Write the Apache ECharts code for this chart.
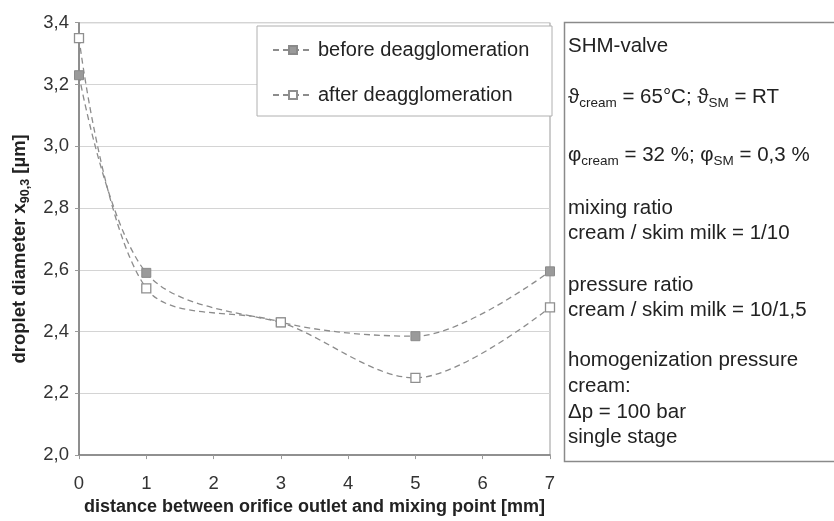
<!DOCTYPE html>
<html>
<head>
<meta charset="utf-8">
<script src="https://cdn.jsdelivr.net/npm/echarts@6/dist/echarts.min.js"></script>
<style>
html,body{margin:0;padding:0;background:#fff;}
#chart{width:834px;height:521px;}
</style>
</head>
<body>
<div id="chart"></div>
<script>
// ---- data ----
var distances = [0, 1, 3, 5, 7];
var beforeDeagg = [3.23, 2.59, 2.43, 2.385, 2.595];
var afterDeagg = [3.35, 2.54, 2.43, 2.25, 2.478];
var seriesNames = ['before deagglomeration', 'after deagglomeration'];
var xTicks = [0, 1, 2, 3, 4, 5, 6, 7];
var yTicks = [2.0, 2.2, 2.4, 2.6, 2.8, 3.0, 3.2, 3.4];
var infoLines = [
  '{m|SHM-valve}',
  '{m|ϑ}{s|cream}{m| = 65°C; ϑ}{s|SM}{m| = RT}',
  '{m|φ}{s|cream}{m| = 32 %; φ}{s|SM}{m| = 0,3 %}',
  '{m|mixing ratio}',
  '{m|cream / skim milk = 1/10}',
  '{m|pressure ratio}',
  '{m|cream / skim milk = 10/1,5}',
  '{m|homogenization pressure}',
  '{m|cream:}',
  '{m|Δp = 100 bar}',
  '{m|single stage}'
];
var infoY = [46.7, 97, 155, 208, 233.5, 285, 310, 360, 386.5, 412.5, 437.5];

var FONT = '"Liberation Sans", Arial, Helvetica, sans-serif';

function pairs(xs, ys) { return xs.map(function (x, i) { return [x, ys[i]]; }); }

var chart = echarts.init(document.getElementById('chart'), null, {renderer: 'canvas'});

var graphics = [{
  type: 'rect',
  shape: {x: 564.5, y: 22.5, width: 300, height: 439},
  style: {fill: '#fff', stroke: '#8a8a8a', lineWidth: 1.5},
  z: 1
}];
infoLines.forEach(function (t, i) {
  graphics.push({
    type: 'text',
    x: 568, y: infoY[i] - 13,
    style: {
      text: t,
      fill: '#222',
      font: '20.5px ' + FONT,
      rich: {
        m: {fontSize: 20.5, fontFamily: FONT, color: '#222', lineHeight: 26},
        s: {fontSize: 13.5, fontFamily: FONT, color: '#222', lineHeight: 14, verticalAlign: 'bottom'}
      }
    },
    z: 2
  });
});

var option = {
  animation: false,
  backgroundColor: '#fff',
  grid: {left: 79, right: 284, top: 22.7, bottom: 62, show: true, borderColor: '#9a9a9a', borderWidth: 1, backgroundColor: 'transparent'},
  legend: {
    orient: 'vertical',
    left: 257, top: 26,
    padding: [14, 14, 11, 15],
    itemWidth: 40, itemHeight: 10, itemGap: 25,
    backgroundColor: '#fff',
    borderColor: '#b0b0b0', borderWidth: 1, borderRadius: 0,
    data: seriesNames,
    textStyle: {fontFamily: FONT, fontSize: 20, color: '#222', lineHeight: 20, width: 220}
  },
  xAxis: {
    type: 'value', min: 0, max: 7, interval: 1,
    name: 'distance between orifice outlet and mixing point [mm]',
    nameLocation: 'middle', nameGap: 38,
    nameTextStyle: {fontFamily: FONT, fontSize: 18, fontWeight: 'bold', color: '#222'},
    axisLine: {show: true, lineStyle: {color: '#7a7a7a', width: 1.5}},
    axisTick: {show: true, length: 4, lineStyle: {color: '#9a9a9a'}},
    axisLabel: {fontFamily: FONT, fontSize: 18.5, color: '#333', margin: 19,
      formatter: function (v) { return xTicks.indexOf(v) >= 0 ? String(v) : ''; }},
    splitLine: {show: false}
  },
  yAxis: {
    type: 'value', min: 2.0, max: 3.4, interval: 0.2,
    name: '{b|droplet diameter x}{s|90,3}{b| [µm]}',
    nameLocation: 'middle', nameRotate: 90, nameGap: 46,
    nameTextStyle: {
      fontFamily: FONT, fontSize: 18.5, fontWeight: 'bold', color: '#222',
      padding: [0, 20, 0, 0],
      rich: {
        b: {fontFamily: FONT, fontSize: 18.5, fontWeight: 'bold', color: '#222', lineHeight: 24},
        s: {fontFamily: FONT, fontSize: 12.5, fontWeight: 'bold', color: '#222', lineHeight: 13, verticalAlign: 'bottom'}
      }
    },
    axisLine: {show: true, lineStyle: {color: '#7a7a7a', width: 1.5}},
    axisTick: {show: true, length: 4, lineStyle: {color: '#9a9a9a'}},
    axisLabel: {fontFamily: FONT, fontSize: 18.5, color: '#333', margin: 10,
      formatter: function (v) {
        var r = Math.round(v * 10) / 10;
        return yTicks.indexOf(r) >= 0 ? r.toFixed(1).replace('.', ',') : '';
      }},
    splitLine: {show: true, lineStyle: {color: '#d4d4d4', width: 1}}
  },
  series: [
    {
      name: seriesNames[0], type: 'line', smooth: 0.33,
      data: pairs(distances, beforeDeagg),
      symbol: 'rect', symbolSize: 9,
      lineStyle: {color: '#8c8c8c', width: 1.3, type: [6, 4]},
      itemStyle: {color: '#9a9a9a', borderColor: '#8a8a8a', borderWidth: 1},
      clip: false, z: 3
    },
    {
      name: seriesNames[1], type: 'line', smooth: 0.33,
      data: pairs(distances, afterDeagg),
      symbol: 'rect', symbolSize: 9,
      lineStyle: {color: '#8c8c8c', width: 1.3, type: [6, 4]},
      itemStyle: {color: '#ffffff', borderColor: '#8f8f8f', borderWidth: 1.3},
      clip: false, z: 3
    }
  ],
  graphic: graphics
};
chart.setOption(option);
</script>
</body>
</html>
